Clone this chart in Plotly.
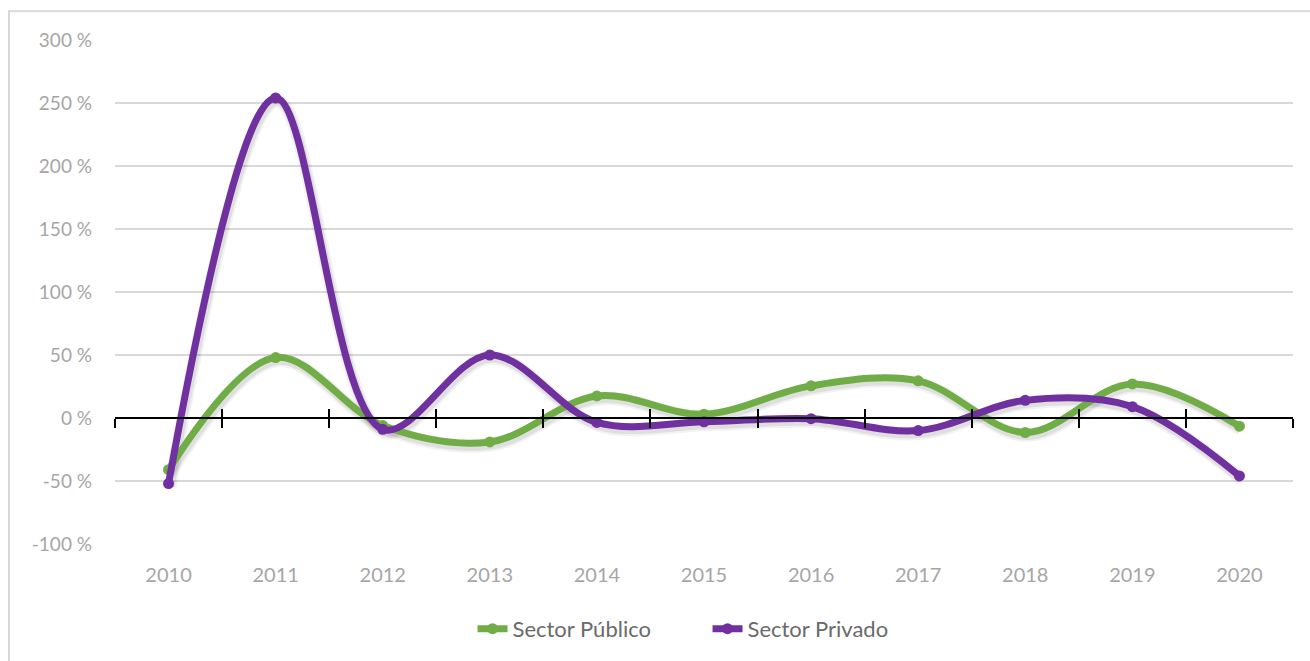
import plotly.graph_objects as go

# Annual variation by sector, 2010-2020 (percent)
years = [2010, 2011, 2012, 2013, 2014, 2015, 2016, 2017, 2018, 2019, 2020]
sector_publico = [-41, 48, -6, -19, 17.5, 3, 25.5, 29.5, -11.5, 27, -6.5]
sector_privado = [-52, 254, -9, 50, -3.5, -3, -0.5, -10, 14, 9, -46]

y_tick_vals = [-100, -50, 0, 50, 100, 150, 200, 250, 300]
y_tick_text = ["-100 %", "-50 %", "0 %", "50 %", "100 %", "150 %", "200 %", "250 %", "300 %"]
x_tick_text = [str(y) for y in years]

GREEN = "#70ad47"
PURPLE = "#7030a0"
FONT = "Lato, 'Open Sans', sans-serif"

series = [("Sector Público", sector_publico, GREEN),
          ("Sector Privado", sector_privado, PURPLE)]

# plot area size in px (used to offset the drop shadow by a few pixels)
W, H = 1310, 661
M = dict(l=115, r=17, t=40, b=116)
plot_w = W - M["l"] - M["r"]
plot_h = H - M["t"] - M["b"]

x_range = [years[0] - 0.5, years[-1] + 0.5]
y_range = [y_tick_vals[0], y_tick_vals[-1]]
boundaries = [y - 0.5 for y in years] + [years[-1] + 0.5]
zero_pos = (0 - y_range[0]) / (y_range[1] - y_range[0])

dx = 1.5 * (x_range[1] - x_range[0]) / plot_w
dy = 3.0 * (y_range[1] - y_range[0]) / plot_h
shadow_x = [x_range[0] - dx, x_range[1] - dx]
shadow_y = [y_range[0] + dy, y_range[1] + dy]

fig = go.Figure()

invisible = dict(mode="markers", marker=dict(opacity=0), showlegend=False, hoverinfo="skip")

# Hidden traces so the base axes and the zero-line axes are drawn
fig.add_trace(go.Scatter(x=[years[0]], y=[0], xaxis="x", yaxis="y", **invisible))
fig.add_trace(go.Scatter(x=[years[0]], y=[0], xaxis="x2", yaxis="y", **invisible))
fig.add_trace(go.Scatter(x=[years[0]], y=[0], xaxis="x3", yaxis="y", **invisible))

# Soft drop shadow under each line
for name, vals, color in series:
    for w, a in [(13, 0.05), (9, 0.08)]:
        fig.add_trace(go.Scatter(
            x=years, y=vals, xaxis="x4", yaxis="y2", mode="lines",
            line=dict(color=f"rgba(0,0,0,{a})", width=w, shape="spline", smoothing=1.0),
            showlegend=False, hoverinfo="skip",
        ))

for name, vals, color in series:
    fig.add_trace(go.Scatter(
        x=years, y=vals, name=name, xaxis="x5", yaxis="y3",
        mode="lines+markers",
        line=dict(color=color, width=7, shape="spline", smoothing=1.0),
        marker=dict(color=color, size=11),
    ))

hidden = dict(visible=False, showgrid=False, zeroline=False)

fig.update_layout(
    width=W, height=H,
    margin=M,
    paper_bgcolor="white", plot_bgcolor="white",
    font=dict(family=FONT, color="#a6a6a6", size=19),
    showlegend=True,
    legend=dict(
        orientation="h", x=0.503, xanchor="center", y=-0.166, yanchor="middle",
        font=dict(family=FONT, size=22, color="#6a6a6a"),
        entrywidth=190, entrywidthmode="pixels",
    ),
    xaxis=dict(
        range=x_range, tickvals=years, ticktext=x_tick_text,
        showgrid=False, zeroline=False, showline=False, ticks="",
        ticklabelstandoff=17,
        tickfont=dict(size=20, color="#a6a6a6"),
    ),
    # axis line through 0 % with tick marks at category boundaries
    xaxis2=dict(
        overlaying="x", anchor="free", position=zero_pos, range=x_range,
        tickvals=boundaries, showticklabels=False, ticks="outside",
        ticklen=9, tickwidth=2, tickcolor="black",
        showline=True, linecolor="black", linewidth=2,
        showgrid=False, zeroline=False,
    ),
    xaxis3=dict(
        overlaying="x", anchor="free", position=zero_pos, range=x_range,
        tickvals=boundaries, showticklabels=False, ticks="inside",
        ticklen=9, tickwidth=2, tickcolor="black",
        showline=False, showgrid=False, zeroline=False,
    ),
    xaxis4=dict(overlaying="x", range=shadow_x, anchor="y2", **hidden),
    yaxis2=dict(overlaying="y", range=shadow_y, anchor="x4", **hidden),
    xaxis5=dict(overlaying="x", range=x_range, anchor="y3", **hidden),
    yaxis3=dict(overlaying="y", range=y_range, anchor="x5", **hidden),
    yaxis=dict(
        range=y_range, tickvals=y_tick_vals, ticktext=y_tick_text,
        showgrid=True, gridcolor="#d9d9d9", gridwidth=1.5,
        zeroline=False, showline=False, ticks="",
        ticklabelstandoff=22,
        tickfont=dict(size=19, color="#a6a6a6"),
    ),
)

# Chart frame
fig.add_shape(
    type="rect", xref="paper", yref="paper",
    x0=-0.09, x1=1.02, y0=-0.3, y1=1.057,
    line=dict(color="#d9d9d9", width=2), fillcolor="rgba(0,0,0,0)",
    layer="below",
)

fig.write_html("out.html")
